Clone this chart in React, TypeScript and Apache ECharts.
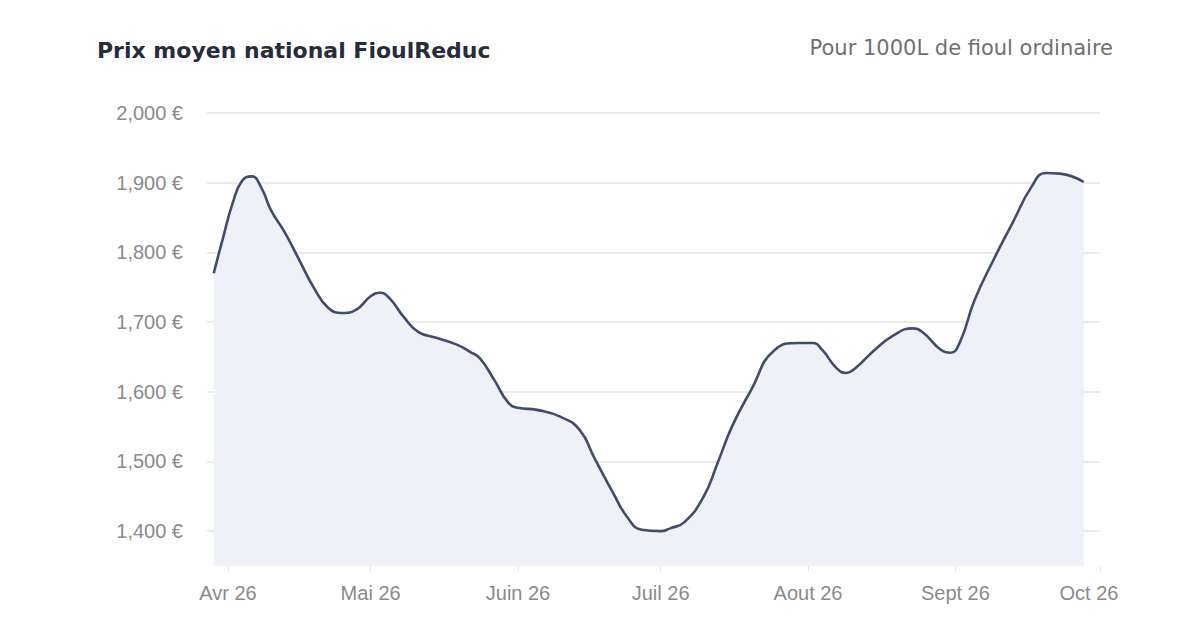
import React, { useEffect, useRef } from "react";
import * as echarts from "echarts";

const dates = [
  "2026-03-29", "2026-03-31", "2026-04-02", "2026-04-04", "2026-04-06",
  "2026-04-08", "2026-04-10", "2026-04-13", "2026-04-16", "2026-04-19",
  "2026-04-22", "2026-04-25", "2026-04-28", "2026-05-01", "2026-05-03",
  "2026-05-05", "2026-05-08", "2026-05-11", "2026-05-15", "2026-05-19",
  "2026-05-22", "2026-05-24", "2026-05-27", "2026-05-30", "2026-06-01",
  "2026-06-05", "2026-06-10", "2026-06-14", "2026-06-17", "2026-06-21",
  "2026-06-24", "2026-06-27", "2026-07-01", "2026-07-03", "2026-07-06",
  "2026-07-10", "2026-07-13", "2026-07-16", "2026-07-20", "2026-07-25",
  "2026-07-30", "2026-08-02", "2026-08-04", "2026-08-07", "2026-08-09",
  "2026-08-11", "2026-08-15", "2026-08-19", "2026-08-23", "2026-08-25",
  "2026-08-29", "2026-08-31", "2026-09-02", "2026-09-05", "2026-09-09",
  "2026-09-13", "2026-09-17", "2026-09-20", "2026-09-23", "2026-09-28",
];

const prices = [
  1770, 1822, 1871, 1903, 1909,
  1893, 1861, 1828, 1789, 1750,
  1721, 1713, 1718, 1737, 1742,
  1734, 1707, 1686, 1677, 1668,
  1657, 1648, 1617, 1584, 1577,
  1574, 1564, 1545, 1506, 1455,
  1420, 1402, 1400, 1404, 1413,
  1449, 1498, 1550, 1602, 1660,
  1670, 1670, 1660, 1634, 1627,
  1634, 1660, 1681, 1691, 1686,
  1660, 1656, 1672, 1731, 1789,
  1842, 1894, 1914, 1913, 1901,
];

const monthLabels = ["Janv", "Févr", "Mars", "Avr", "Mai", "Juin", "Juil", "Aout", "Sept", "Oct", "Nov", "Déc"];

const title = "Prix moyen national FioulReduc";
const subtitle = "Pour 1000L de fioul ordinaire";

const App = () => {
  const chartRef = useRef(null);

  useEffect(() => {
    let myChart: echarts.ECharts = null;
    if (chartRef.current !== null) {
      myChart = echarts.init(chartRef.current, null, { renderer: "svg" });
    }

    const labelFont = {
      color: "#8a8a8a",
      fontSize: 20,
      fontFamily: "Liberation Sans",
    };

    const option = {
      animation: false,
      backgroundColor: "#ffffff",
      graphic: [
        {
          type: "text",
          left: 97,
          top: 39,
          style: {
            text: title,
            fill: "#252d3d",
            font: "bold 22px 'DejaVu Sans'",
          },
        },
        {
          type: "text",
          right: 87,
          top: 37,
          style: {
            text: subtitle,
            fill: "#707070",
            font: "21px 'DejaVu Sans'",
          },
        },
      ],
      grid: {
        left: 207,
        right: 100,
        top: 113,
        bottom: 61,
      },
      xAxis: {
        type: "time",
        min: new Date(2026, 2, 27, 14).getTime(),
        max: new Date(2026, 9, 1, 10).getTime(),
        splitNumber: 6,
        axisLine: { show: false },
        axisTick: { show: true, length: 5, lineStyle: { color: "#e4e4e4" } },
        splitLine: { show: false },
        axisLabel: {
          ...labelFont,
          margin: 17,
          showMaxLabel: true,
          formatter: (value: number) => {
            const m = new Date(value).getMonth();
            const text = monthLabels[m] + " 26";
            return m === 9 ? "{last|" + text + "}" : text;
          },
          rich: {
            last: { ...labelFont, padding: [0, 22, 0, 0] },
          },
        },
      },
      yAxis: {
        type: "value",
        min: 1350,
        max: 2000,
        interval: 50,
        axisLine: { show: false },
        axisTick: { show: false },
        axisLabel: {
          ...labelFont,
          margin: 24,
          formatter: (value: number) =>
            value % 100 === 0 ? value.toLocaleString("en-US") + " €" : "",
        },
        splitLine: {
          show: true,
          lineStyle: { color: ["rgba(0,0,0,0)", "#e3e3e3"], width: 1.5 },
        },
      },
      series: [
        {
          type: "line",
          smooth: 0.5,
          showSymbol: false,
          data: dates.map((d, i) => [d, prices[i]]),
          lineStyle: { color: "#414c69", width: 2.6 },
          itemStyle: { color: "#414c69" },
          areaStyle: { color: "#eff1f9", opacity: 1 },
        },
      ],
    };

    if (myChart !== null) {
      myChart.setOption(option);
    }

    return () => {
      if (myChart !== null) {
        myChart.dispose();
      }
    };
  }, []);

  return (
    <div
      ref={chartRef}
      style={{ position: "absolute", left: 0, top: 0, width: 1200, height: 627 }}
    ></div>
  );
};

export default App;
